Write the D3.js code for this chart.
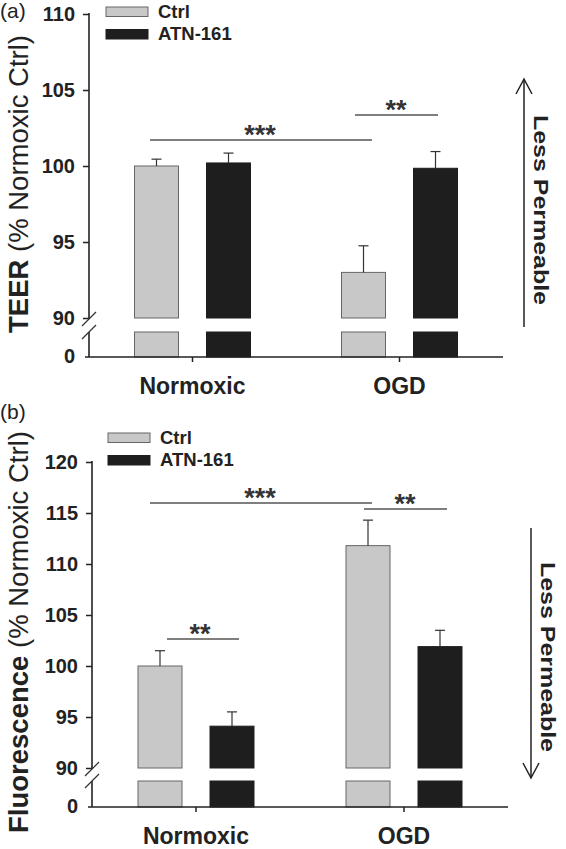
<!DOCTYPE html>
<html><head><meta charset="utf-8">
<script src="https://cdn.jsdelivr.net/npm/d3@7"></script>
<style>
body{margin:0;background:#fff;}
svg{display:block;font-family:"Liberation Sans",Arial,sans-serif;}
</style></head>
<body><svg id="c" width="566" height="849"></svg>
<script>
const groups = ["Normoxic", "OGD"];
const series = ["Ctrl", "ATN-161"];
const teerMean = [[100.0, 100.2], [93.0, 99.85]];
const teerErr  = [[0.45, 0.65], [1.75, 1.1]];
const fluoMean = [[100.0, 94.1], [111.8, 101.9]];
const fluoErr  = [[1.5, 1.4], [2.5, 1.6]];
const teerTicks = [90, 95, 100, 105, 110];
const fluoTicks = [90, 95, 100, 105, 110, 115, 120];
const colors = {"Ctrl": "#c8c8c8", "ATN-161": "#1e1e1e"};

const svg = d3.select("#c");
const FONT = "Liberation Sans, Arial, sans-serif";

function panel(o) {
  const g = svg.append("g");
  const y = d3.scaleLinear().domain([o.ticks[0], o.ticks[o.ticks.length-1]]).range([o.yBreakTop, o.yTop]);
  const x = d3.scaleBand().domain(groups).range([o.xLeft, o.xRight]);
  const xs = d3.scaleBand().domain(series).range([-58, 58]).paddingInner(28/72).paddingOuter(0);

  groups.forEach((grp, gi) => {
    series.forEach((s, si) => {
      const cx = x(grp) + x.bandwidth()/2;
      const bx = cx + xs(s);
      const v = o.mean[gi][si];
      const fill = colors[s];
      const stroke = s === "Ctrl" ? "#666" : "#1e1e1e";
      g.append("rect").attr("x", bx).attr("y", y(v)).attr("width", xs.bandwidth())
        .attr("height", y(o.ticks[0]) - y(v)).attr("fill", fill).attr("stroke", stroke).attr("stroke-width", 1);
      g.append("rect").attr("x", bx).attr("y", o.yBreakBot).attr("width", xs.bandwidth())
        .attr("height", o.yBase - o.yBreakBot).attr("fill", fill).attr("stroke", stroke).attr("stroke-width", 1);
      const ex = bx + xs.bandwidth()/2;
      const e = o.err[gi][si];
      g.append("line").attr("x1", ex).attr("x2", ex).attr("y1", y(v)).attr("y2", y(v + e))
        .attr("stroke", "#333").attr("stroke-width", 1.2);
      g.append("line").attr("x1", ex - 5).attr("x2", ex + 5).attr("y1", y(v + e)).attr("y2", y(v + e))
        .attr("stroke", "#333").attr("stroke-width", 1.2);
    });
  });

  const ax = g.append("g").attr("transform", `translate(${o.xLeft},0)`)
    .call(d3.axisLeft(y).tickValues(o.ticks).tickSize(6).tickSizeOuter(0).tickFormat(d3.format("d")));
  ax.select(".domain").remove();
  ax.selectAll(".tick line").attr("stroke", "#222").attr("stroke-width", 1.5);
  ax.selectAll(".tick text").attr("font-size", 20).attr("font-weight", "bold").attr("fill", "#222")
    .attr("font-family", FONT).attr("x", -14);
  g.append("line").attr("x1", o.xLeft).attr("x2", o.xLeft).attr("y1", o.yTop - 1).attr("y2", o.yBreakTop + 1)
    .attr("stroke", "#222").attr("stroke-width", 1.6);
  g.append("line").attr("x1", o.xLeft).attr("x2", o.xLeft).attr("y1", o.yBreakBot).attr("y2", o.yBase)
    .attr("stroke", "#222").attr("stroke-width", 1.6);
  [o.yBreakTop + 1, o.yBreakBot].forEach(yy => {
    g.append("line").attr("x1", o.xLeft - 7).attr("x2", o.xLeft + 7).attr("y1", yy + 7).attr("y2", yy - 7)
      .attr("stroke", "#333").attr("stroke-width", 1.2);
  });
  g.append("text").attr("x", o.xLeft - 14).attr("y", o.yBase).attr("dy", "0.32em").attr("text-anchor", "end")
    .attr("font-size", 20).attr("font-weight", "bold").attr("fill", "#222").text("0");

  const xa = g.append("g").attr("transform", `translate(0,${o.yBase})`)
    .call(d3.axisBottom(x).tickSize(5).tickSizeOuter(0));
  xa.select(".domain").remove();
  xa.selectAll(".tick line").attr("stroke", "#222").attr("stroke-width", 1.5);
  xa.selectAll(".tick text").attr("font-size", 23).attr("font-weight", "bold").attr("fill", "#222")
    .attr("font-family", FONT).attr("y", 21);
  g.append("line").attr("x1", o.xLeft - 4).attr("x2", o.xRight).attr("y1", o.yBase).attr("y2", o.yBase)
    .attr("stroke", "#222").attr("stroke-width", 1.6);

  const t = g.append("text").attr("transform", `translate(${o.titleX},${o.titleY}) rotate(-90)`)
    .attr("text-anchor", "middle").attr("font-size", 27.5).attr("fill", "#222");
  t.append("tspan").attr("font-weight", "bold").text(o.titleBold);
  t.append("tspan").text(o.titleRest);

  g.append("text").attr("x", 0).attr("y", o.letterY).attr("font-size", 21).attr("fill", "#222").text(o.letter);

  series.forEach((s, i) => {
    g.append("rect").attr("x", o.legX).attr("y", o.legY + i * 22.5).attr("width", 42).attr("height", 9.5)
      .attr("fill", colors[s]).attr("stroke", s === "Ctrl" ? "#666" : "#1e1e1e").attr("stroke-width", 1);
    g.append("text").attr("x", o.legX + 52).attr("y", o.legY + i * 22.5 + 10.5).attr("font-size", 18.5)
      .attr("font-weight", "bold").attr("fill", "#222").text(s);
  });

  o.sig.forEach(sg => {
    g.append("line").attr("x1", sg.x1).attr("x2", sg.x2).attr("y1", sg.y).attr("y2", sg.y)
      .attr("stroke", "#555").attr("stroke-width", 1.6);
    g.append("text").attr("x", sg.tx).attr("y", sg.y + 4).attr("text-anchor", "middle")
      .attr("font-size", 27).attr("font-weight", "bold").attr("fill", "#333").text(sg.label);
  });

  const a = o.arrow;
  g.append("line").attr("x1", a.x).attr("x2", a.x).attr("y1", a.y1).attr("y2", a.y2)
    .attr("stroke", "#222").attr("stroke-width", 1.5);
  const tip = a.up ? a.y1 : a.y2;
  const d = a.up ? 1 : -1;
  g.append("path").attr("d", `M${a.x - 8},${tip + d * 15}L${a.x},${tip}L${a.x + 8},${tip + d * 15}`)
    .attr("fill", "none").attr("stroke", "#222").attr("stroke-width", 1.5);
  g.append("text").attr("transform", `translate(${a.tx},${a.ty}) rotate(90)`).attr("text-anchor", "middle")
    .attr("font-size", 21).attr("font-weight", "bold").attr("fill", "#222")
    .attr("textLength", a.len).attr("lengthAdjust", "spacingAndGlyphs").text("Less Permeable");
}

panel({
  ticks: teerTicks, mean: teerMean, err: teerErr,
  yTop: 14, yBreakTop: 318, yBreakBot: 332, yBase: 357,
  xLeft: 89, xRight: 503,
  titleX: 28, titleY: 184, titleBold: "TEER", titleRest: " (% Normoxic Ctrl)",
  letter: "(a)", letterY: 18,
  legX: 106, legY: 7,
  sig: [
    {x1: 150, x2: 372, y: 140, tx: 260, label: "***"},
    {x1: 355, x2: 438, y: 115, tx: 396, label: "**"}
  ],
  arrow: {x: 524, y1: 79, y2: 327, up: true, tx: 534, ty: 210, len: 190}
});

panel({
  ticks: fluoTicks, mean: fluoMean, err: fluoErr,
  yTop: 462, yBreakTop: 768, yBreakBot: 781, yBase: 807,
  xLeft: 92, xRight: 508,
  titleX: 28, titleY: 632, titleBold: "Fluorescence", titleRest: " (% Normoxic Ctrl)",
  letter: "(b)", letterY: 419,
  legX: 108, legY: 433,
  sig: [
    {x1: 150, x2: 372, y: 503, tx: 260, label: "***"},
    {x1: 364, x2: 447, y: 509, tx: 405, label: "**"},
    {x1: 167, x2: 239, y: 639, tx: 200, label: "**"}
  ],
  arrow: {x: 531, y1: 528, y2: 778, up: false, tx: 541, ty: 657, len: 190}
});
</script>
</body></html>
